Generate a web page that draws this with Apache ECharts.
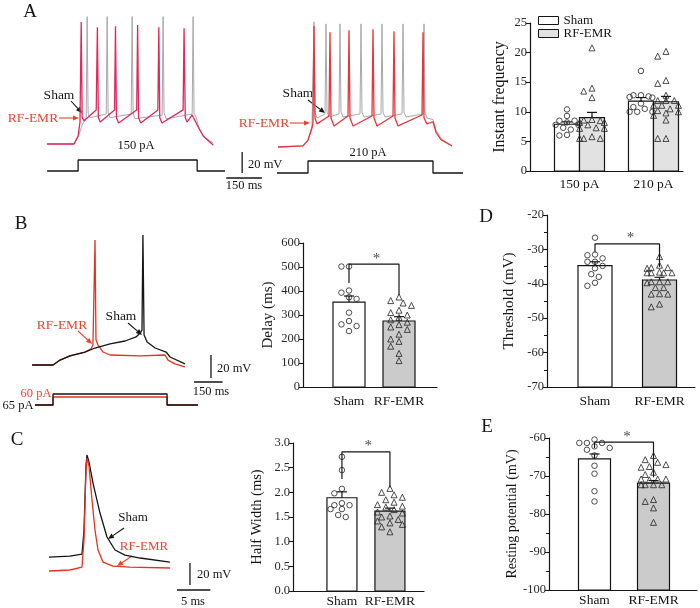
<!DOCTYPE html>
<html><head><meta charset="utf-8">
<script src="https://cdn.jsdelivr.net/npm/echarts@6/dist/echarts.min.js"></script>
<style>html,body{margin:0;padding:0;background:#fff}#c{width:700px;height:608px}</style>
</head><body><div id="c"></div>
<script>
// ================= DATA =================
// Panel A traces: [time (ms), membrane potential (mV)]
const traceA150Sham = [[-130,-70],[-17,-70],[0,-63.4],[17,-52],[34,-45],[38,51],[42,-40.5],[50,-45],[118,-41.5],[122,51],[126,-40.5],[134,-45],[223,-41.5],[227,51],[231,-40.5],[239,-46],[353,-42.5],[357,51],[361,-40.5],[370,-46],[479,-41.5],[483,51],[487,-40.5],[496,-45],[508,-55],[529,-63.4],[567,-69]];
const traceA150RF = [[-131,-70],[-17,-70],[0,-62.4],[8,-49],[13,46],[17,-45],[25,-48],[76,-37.6],[81,41],[85,-45],[93,-49],[153,-37.6],[157,42],[161,-45],[170,-50],[246,-37.6],[250,43],[254,-45],[263,-50],[335,-37.6],[339,41],[343,-45],[352,-50],[441,-37.6],[445,40],[450,-45],[458,-49],[479,-42.4],[500,-52],[525,-62.4],[567,-71]];
const traceA210Sham = [[-120,-70],[-20,-69],[0,-63.4],[16,-50],[24,49],[28,-36.8],[36,-42.5],[68,-38.6],[72,47],[76,-36.8],[84,-41.5],[124,-38.6],[128,47],[132,-36.8],[140,-41.5],[208,-38.6],[212,47],[216,-36.8],[224,-41.5],[292,-38.6],[296,47],[300,-36.8],[308,-41.5],[376,-38.6],[380,47],[384,-36.8],[392,-41.5],[460,-38.6],[464,47],[468,-36.8],[476,-42.5],[500,-44],[512,-54],[532,-62],[576,-69]];
const traceA210RF = [[-120,-70],[-20,-69],[0,-63.4],[16,-52],[20,-47.2],[24,45],[28,-42.5],[36,-48],[84,-40.5],[88,39],[92,-42.5],[104,-50],[160,-40.5],[164,41],[168,-42.5],[180,-50],[256,-40.5],[260,42],[264,-42.5],[276,-50],[340,-40.5],[344,40],[348,-42.5],[360,-50],[456,-39.6],[460,39],[464,-42.5],[476,-48],[500,-46],[512,-56],[532,-63],[576,-69]];
// stimulus steps: [time (ms), current (pA)]
const stimA150 = [[-130,0],[0,0],[0,150],[500,150],[500,0],[617,0]];
const stimA210 = [[-124,0],[0,0],[0,210],[500,210],[500,0],[620,0]];
// Panel B traces
const traceBSham = [[-110,-70],[0,-70],[37,-65.7],[89,-62],[168,-58.7],[221,-55.2],[300,-51.7],[379,-49.1],[437,-45.6],[458,-42.2],[468,-39.6],[473,43.1],[479,-43.9],[495,-50],[537,-55.2],[595,-58.7],[616,-63],[694,-69]];
const traceBRF = [[-110,-70],[0,-70],[37,-65.7],[89,-62],[168,-58.7],[200,-56],[210,-52.6],[221,38.8],[226,-48],[237,-52.6],[263,-58.7],[300,-61.3],[458,-62],[589,-61.3],[605,-65.7],[642,-69],[694,-71.7]];
const stimB65 = [[-95,0],[0,0],[0,65],[600,65],[600,0],[763,0]];
const stimB60 = [[-95,0],[0,0],[0,60],[600,60],[600,0],[763,0]];
// Panel C traces
const traceCSham = [[-5.7,-65],[-2.55,-64.1],[-0.75,-62.3],[-0.45,-40.4],[-0.15,18.7],[0,27.8],[0.3,21.5],[0.9,2.3],[1.95,-25],[3.0,-46.8],[4.2,-58.6],[5.7,-63.2],[7.95,-65.9],[12.45,-69.6]];
const traceCRF = [[-5.7,-77.7],[-2.55,-76.8],[-0.75,-74.1],[-0.45,-49.5],[-0.15,14.2],[0,25],[0.3,17.8],[0.75,-13.1],[1.2,-40.4],[1.65,-58.6],[2.4,-69.6],[3.9,-73.2],[6.45,-74.1],[12.45,-75]];
// scale bars
const scaleA = {ms:150, mV:20};
const scaleB = {ms:150, mV:20};
const scaleC = {ms:5, mV:20};

// Bar charts
const freqGroups = ['150 pA','210 pA'];
const groupNames = ['Sham','RF-EMR'];
const freqShamMean = [7.9, 11.8];
const freqShamSem = [0.4, 0.6];
const freqRFMean = [9.0, 11.7];
const freqRFSem = [0.9, 0.9];
const freqSham150 = [8.2, 8.5, 7.0, 10.4, 6.0, 6.1, 7.3, 7.8, 9.3, 7.8, 8.5];
const freqRF150 = [20.8, 13.5, 14.0, 12.4, 8.5, 8.2, 8.2, 8.6, 7.2, 7.2, 7.3, 8.7, 7.8, 5.8, 5.5, 5.5, 5.5];
const freqSham210 = [16.9, 12.8, 12.5, 12.4, 12.6, 12.8, 11.4, 10.8, 10.0, 10.0, 10.0, 10.5];
const freqRF210 = [20.2, 19.4, 15.3, 14.8, 12.8, 11.9, 11.9, 11.9, 11.1, 11.1, 11.1, 10.5, 10.2, 10.0, 9.8, 9.4, 8.6, 5.5, 5.5];

const delayMean = [354, 275];
const delaySem = [25, 18];
const delaySham = [502, 502, 402, 393, 374, 367, 310, 275, 261, 254, 233];
const delayRF = [375, 360, 350, 340, 320, 310, 300, 290, 280, 270, 260, 250, 240, 220, 200, 190, 170, 140, 110];
const delaySig = [433, 512, 383];

const halfMean = [1.89, 1.62];
const halfSem = [0.12, 0.06];
const halfSham = [2.72, 2.45, 1.98, 2.07, 1.74, 1.78, 1.66, 1.66, 1.74, 1.54, 1.50];
const halfRF = [2.08, 2.0, 1.95, 1.9, 1.85, 1.8, 1.75, 1.72, 1.7, 1.65, 1.6, 1.58, 1.52, 1.5, 1.45, 1.42, 1.38, 1.35, 1.3, 1.2];
const halfSig = [2.27, 2.82, 2.1];

const threshMean = [-34.7, -38.9];
const threshSem = [1.1, 0.8];
const threshSham = [-26.6, -31.7, -31.5, -32.6, -33.6, -33.6, -35.5, -34.8, -37.2, -38.0, -40.6, -39.7];
const threshRF = [-32.1, -35.3, -35.3, -35.5, -34.6, -36.8, -36.8, -36.8, -36.8, -36.6, -39.4, -39.4, -39.7, -39.4, -41.1, -41.1, -43.0, -43.0, -42.9, -46.7, -45.9];
const threshSig = [-30.8, -28.4, -35.1];

const restMean = [-65.5, -71.9];
const restSem = [1.3, 0.7];
const restSham = [-60.4, -61.3, -61.3, -62.6, -62.2, -61.3, -63.1, -64.6, -67.3, -69.4, -74.0, -76.7];
const restRF = [-64.6, -65.7, -67.0, -67.5, -66.4, -67.7, -69.0, -69.6, -71.0, -70.8, -70.8, -70.8, -72.3, -72.3, -72.3, -72.3, -76.7, -76.2, -78.4, -82.2];
const restSig = [-62.6, -61.1, -70.3];

// ================= BUILD =================
const FONT = 'Liberation Serif';
const INK = '#151515';
const RED1 = '#e2265a', RED2 = '#e8343a', RED3 = '#e6321e', GRAY = '#a9a9a9', REDTXT = '#e8452e';
const grid = [], xAxis = [], yAxis = [], series = [], graphic = [];

function addHiddenGrid(g, xr, yr) {
  const i = grid.length;
  grid.push(g);
  xAxis.push({type:'value', gridIndex:i, min:xr[0], max:xr[1], show:false});
  yAxis.push({type:'value', gridIndex:i, min:yr[0], max:yr[1], show:false});
  return i;
}
function trace(ai, data, color, w, z) {
  series.push({type:'line', xAxisIndex:ai, yAxisIndex:ai, data, symbol:'none', showSymbol:false,
    lineStyle:{color, width:w||1.2}, clip:false, silent:true, z:z||2, animation:false});
}
function scaleBar(ai, sb, vx, vy, hx, hy) {
  trace(ai, [[vx, vy], [vx, vy + sb.mV]], INK, 1.3);
  trace(ai, [[hx, hy], [hx + sb.ms, hy]], INK, 1.3);
}

// ---- A traces
const gA1 = addHiddenGrid({left:40, top:7.2, width:228.6, height:178.9}, [-160, 800], [-110, 60]);
trace(gA1, traceA150Sham, GRAY, 1);
trace(gA1, traceA150RF, RED1, 1.3, 3);
scaleBar(gA1, scaleA, 689, -97.6, 622, -102.3);
const gA1s = addHiddenGrid({left:40, top:155, width:228.6, height:20}, [-160, 800], [-54.5, 218.2]);
trace(gA1s, stimA150, INK, 1.3);
const gA2 = addHiddenGrid({left:268, top:10.2, width:200, height:178.9}, [-160, 640], [-110, 60]);
trace(gA2, traceA210Sham, GRAY, 1);
trace(gA2, traceA210RF, RED2, 1.3, 3);
const gA2s = addHiddenGrid({left:268, top:157, width:200, height:20}, [-160, 640], [-70, 280]);
trace(gA2s, stimA210, INK, 1.3);
// ---- B traces
const gB = addHiddenGrid({left:22.6, top:215.6, width:201.5, height:172.4}, [-160, 900], [-90, 60]);
trace(gB, traceBRF, RED3, 1.3, 2);
trace(gB, traceBSham, INK, 1.3, 3);
scaleBar(gB, scaleB, 831, -81.3, 742, -84.8);
const gBs1 = addHiddenGrid({left:22.6, top:385, width:201.5, height:25}, [-160, 900], [-37.5, 150]);
trace(gBs1, stimB60, RED3, 1.3, 2);
const gBs2 = addHiddenGrid({left:22.6, top:385, width:201.5, height:25}, [-160, 900], [-29.5, 118.2]);
trace(gBs2, stimB65, INK, 1.3, 3);
// ---- C traces
const gC = addHiddenGrid({left:47, top:441.6, width:173.3, height:153.9}, [-6, 20], [-100, 40]);
trace(gC, traceCSham, INK, 1.3, 2);
trace(gC, traceCRF, RED3, 1.3, 3);
scaleBar(gC, scaleC, 15.45, -90.5, 13.5, -95);

// ---- bar panels
function barPanel(cfg) {
  const i = grid.length;
  grid.push(cfg.grid);
  xAxis.push({type:'value', gridIndex:i, min:cfg.x[0], max:cfg.x[1], splitLine:{show:false},
    axisLine:{show:true, onZero:false, lineStyle:{color:INK, width:1.2}}, axisTick:{show:false},
    axisLabel:{show:true, customValues:cfg.labels.map((_, k) => k), formatter:v => cfg.labels[Math.round(v)] || '',
      color:INK, fontFamily:FONT, fontSize:13.5, margin:cfg.labelMargin}});
  yAxis.push({type:'value', gridIndex:i, min:cfg.y[0], max:cfg.y[1], interval:cfg.interval, splitLine:{show:false},
    axisLine:{show:true, onZero:false, lineStyle:{color:INK, width:1.2}},
    axisTick:{show:true, length:4, lineStyle:{color:INK, width:1.1}},
    minorTick:{show:!!cfg.minor, splitNumber:2, length:3, lineStyle:{color:INK, width:1}},
    axisLabel:{color:'#2a2a2a', fontFamily:FONT, fontSize:12.5, margin:3, formatter:cfg.fmt},
    name:cfg.name, nameLocation:'middle', nameGap:cfg.nameGap, nameRotate:90,
    nameTextStyle:{fontFamily:FONT, fontSize:cfg.nameSize, color:INK}});
  return i;
}
function bars(ai, name, means, sems, xs, fill, w, yMin) {
  series.push({type:'custom', name, xAxisIndex:ai, yAxisIndex:ai, clip:false, z:2, animation:false, silent:true,
    itemStyle:{color:fill, borderColor:INK},
    encode:{x:0, y:1},
    data: means.map((m, k) => [xs[k], m, sems[k]]),
    renderItem(params, api) {
      const x = api.value(0), m = api.value(1), e = api.value(2);
      const top = api.coord([x, m]), base = api.coord([x, yMin]), et = api.coord([x, m + e]);
      const cap = 5;
      const st = {stroke:INK, lineWidth:1.2};
      return {type:'group', children:[
        {type:'rect', shape:{x:top[0] - w / 2, y:top[1], width:w, height:base[1] - top[1]}, style:{fill, stroke:INK, lineWidth:1.2}},
        {type:'line', shape:{x1:top[0], y1:top[1], x2:top[0], y2:et[1]}, style:st},
        {type:'line', shape:{x1:top[0] - cap, y1:et[1], x2:top[0] + cap, y2:et[1]}, style:st}
      ]};
    }});
}
function swarm(cfg, values, center, s, maxHalf) {
  const pxX = cfg.grid.width / (cfg.x[1] - cfg.x[0]);
  const pxY = cfg.grid.height / (cfg.y[1] - cfg.y[0]);
  const placed = [];
  const order = values.map((v, k) => k).sort((a, b) => values[b] - values[a]);
  const d = s * 1.15;
  order.forEach(k => {
    const v = values[k];
    let best = 0, bestOv = Infinity;
    for (let j = 0; j < 40; j++) {
      const off = (j % 2 ? -1 : 1) * Math.ceil(j / 2) * d * 0.6;
      if (Math.abs(off) > maxHalf) continue;
      let ov = 0;
      placed.forEach(p => {
        const dx = off - p[0], dy = (v - p[1]) * pxY;
        const dist = Math.sqrt(dx * dx + dy * dy);
        if (dist < d) ov += d - dist;
      });
      if (ov === 0) { best = off; bestOv = 0; break; }
      if (ov < bestOv) { bestOv = ov; best = off; }
    }
    placed.push([best, v]);
  });
  return placed.map(p => [center + p[0] / pxX, p[1]]);
}
function dots(ai, cfg, values, center, symbol, s, maxHalf) {
  series.push({type:'scatter', xAxisIndex:ai, yAxisIndex:ai, data:swarm(cfg, values, center, s, maxHalf),
    symbol, symbolSize:s, clip:false, silent:true, z:5, animation:false,
    itemStyle:{color:'rgba(255,255,255,0)', borderColor:'#222', borderWidth:1}});
}
function sig(ai, lv) {
  series.push({type:'line', xAxisIndex:ai, yAxisIndex:ai, data:[[0, lv[0]], [0, lv[1]], [1, lv[1]], [1, lv[2]]],
    symbol:'none', lineStyle:{color:INK, width:1.2}, clip:false, silent:true, z:4, animation:false});
  series.push({type:'scatter', xAxisIndex:ai, yAxisIndex:ai, data:[[0.55, lv[1]]], symbolSize:0.1, clip:false, silent:true,
    itemStyle:{color:'rgba(0,0,0,0)'}, animation:false,
    label:{show:true, position:'top', distance:-2, formatter:'*', fontFamily:FONT, fontSize:15, color:INK}});
}

const cfgA = {grid:{left:530, top:23, width:153, height:148}, x:[-0.669, 1.399], y:[0, 25], interval:5,
  labels:freqGroups, name:'Instant frequency', nameSize:16, nameGap:22, labelMargin:6};
const cfgB = {grid:{left:303, top:243, width:134, height:144}, x:[-0.92, 1.76], y:[0, 600], interval:100,
  labels:groupNames, name:'Delay (ms)', nameSize:15, nameGap:27, labelMargin:7};
const cfgC = {grid:{left:293, top:443, width:131, height:148}, x:[-1.02, 1.71], y:[0, 3], interval:0.5,
  labels:groupNames, name:'Half Width (ms)', nameSize:14.5, nameGap:28, labelMargin:3, fmt:v => v.toFixed(1)};
const cfgD = {grid:{left:547, top:215, width:148, height:172}, x:[-0.744, 1.55], y:[-70, -20], interval:10, minor:true,
  labels:groupNames, name:'Threshold (mV)', nameSize:15, nameGap:30, labelMargin:7};
const cfgE = {grid:{left:549, top:438, width:148, height:152}, x:[-0.771, 1.737], y:[-100, -60], interval:10, minor:true,
  labels:groupNames, name:'Resting potential (mV)', nameSize:14, nameGap:23, labelMargin:3};

const WHITE = '#ffffff', LGRAY = '#e2e2e2', MGRAY = '#cbcbcb';
function pairBars(ai, name, means, sems, w, yMin) {
  bars(ai, name + ' Sham', [means[0]], [sems[0]], [0], WHITE, w, yMin);
  bars(ai, name + ' RF-EMR', [means[1]], [sems[1]], [1], MGRAY, w, yMin);
}
// A bars
const bA = barPanel(cfgA);
bars(bA, 'Sham', freqShamMean, freqShamSem, [-0.169, 0.831], WHITE, 25, 0);
bars(bA, 'RF-EMR', freqRFMean, freqRFSem, [0.169, 1.169], LGRAY, 25, 0);
dots(bA, cfgA, freqSham150, -0.169, 'circle', 5.5, 13);
dots(bA, cfgA, freqRF150, 0.169, 'triangle', 6, 13);
dots(bA, cfgA, freqSham210, 0.831, 'circle', 5.5, 13);
dots(bA, cfgA, freqRF210, 1.169, 'triangle', 6, 13);
// B
const bB = barPanel(cfgB);
pairBars(bB, 'B', delayMean, delaySem, 32, 0);
dots(bB, cfgB, delaySham, 0, 'circle', 5.5, 15);
dots(bB, cfgB, delayRF, 1, 'triangle', 6, 15);
sig(bB, delaySig);
// C
const bC = barPanel(cfgC);
pairBars(bC, 'C', halfMean, halfSem, 30, 0);
dots(bC, cfgC, halfSham, 0, 'circle', 5.5, 15);
dots(bC, cfgC, halfRF, 1, 'triangle', 6, 15);
sig(bC, halfSig);
// D
const bD = barPanel(cfgD);
pairBars(bD, 'D', threshMean, threshSem, 34, -70);
dots(bD, cfgD, threshSham, 0, 'circle', 5.5, 16);
dots(bD, cfgD, threshRF, 1, 'triangle', 6, 16);
sig(bD, threshSig);
// E
const bE = barPanel(cfgE);
pairBars(bE, 'E', restMean, restSem, 32, -100);
dots(bE, cfgE, restSham, 0, 'circle', 5.5, 16);
dots(bE, cfgE, restRF, 1, 'triangle', 6, 16);
sig(bE, restSig);

// ---- annotations
function txt(x, y, s, size, color, align) {
  graphic.push({type:'text', x, y, silent:true, style:{text:s, fontFamily:FONT, fontSize:size, fill:color || INK,
    align:align || 'center', verticalAlign:'middle', textAlign:align || 'center', textVerticalAlign:'middle'}});
}
function arrow(x1, y1, x2, y2, color) {
  const a = Math.atan2(y2 - y1, x2 - x1), L = 6, W = 2.6;
  const bx = x2 - L * Math.cos(a), by = y2 - L * Math.sin(a);
  graphic.push({type:'line', silent:true, shape:{x1, y1, x2:bx, y2:by}, style:{stroke:color, lineWidth:1.1}});
  graphic.push({type:'polygon', silent:true, shape:{points:[[x2, y2], [bx + W * Math.sin(a), by - W * Math.cos(a)], [bx - W * Math.sin(a), by + W * Math.cos(a)]]}, style:{fill:color}});
}
txt(30, 12, 'A', 19); txt(21, 224, 'B', 19); txt(17, 440, 'C', 19); txt(486, 217, 'D', 19); txt(487, 427, 'E', 19);
// A
txt(59, 95, 'Sham', 13.5); arrow(71, 101, 82, 113, INK);
txt(33, 118, 'RF-EMR', 13.5, REDTXT); arrow(59, 118, 79, 118, REDTXT);
txt(136, 146, '150 pA', 12.5);
txt(298, 93, 'Sham', 13.5); arrow(308, 100, 325, 113, INK);
txt(264, 123, 'RF-EMR', 13.5, REDTXT); arrow(290, 123, 310, 123, REDTXT);
txt(368, 153, '210 pA', 12.5);
txt(248, 165, '20 mV', 12.5, INK, 'left'); txt(244, 186, '150 ms', 12.5);
// B
txt(121, 316, 'Sham', 13.5); arrow(128, 323, 142, 335, INK);
txt(62, 325, 'RF-EMR', 13.5, REDTXT); arrow(78, 331, 92, 344, REDTXT);
txt(36, 394, '60 pA', 12.5, REDTXT); txt(18, 406, '65 pA', 12.5);
txt(217, 369, '20 mV', 12.5, INK, 'left'); txt(211, 392, '150 ms', 12.5);
// C
txt(133, 518, 'Sham', 13); arrow(124, 528, 108, 539, INK);
txt(144, 547, 'RF-EMR', 13, REDTXT); arrow(132, 556, 117, 566, REDTXT);
txt(197, 575, '20 mV', 12.5, INK, 'left'); txt(193, 602, '5 ms', 12.5);

const chart = echarts.init(document.getElementById('c'), null, {renderer:'canvas'});
chart.setOption({
  animation:false,
  backgroundColor:'#fff',
  textStyle:{fontFamily:FONT},
  grid, xAxis, yAxis, series, graphic,
  legend:{show:true, orient:'vertical', left:538, top:14, padding:0, itemWidth:20, itemHeight:8, itemGap:0,
    selectedMode:false,
    textStyle:{fontFamily:FONT, fontSize:13, color:INK, lineHeight:13},
    data:[{name:'Sham', icon:'rect', itemStyle:{color:WHITE, borderColor:INK, borderWidth:1}},
          {name:'RF-EMR', icon:'rect', itemStyle:{color:LGRAY, borderColor:INK, borderWidth:1}}]}
});
</script></body></html>
